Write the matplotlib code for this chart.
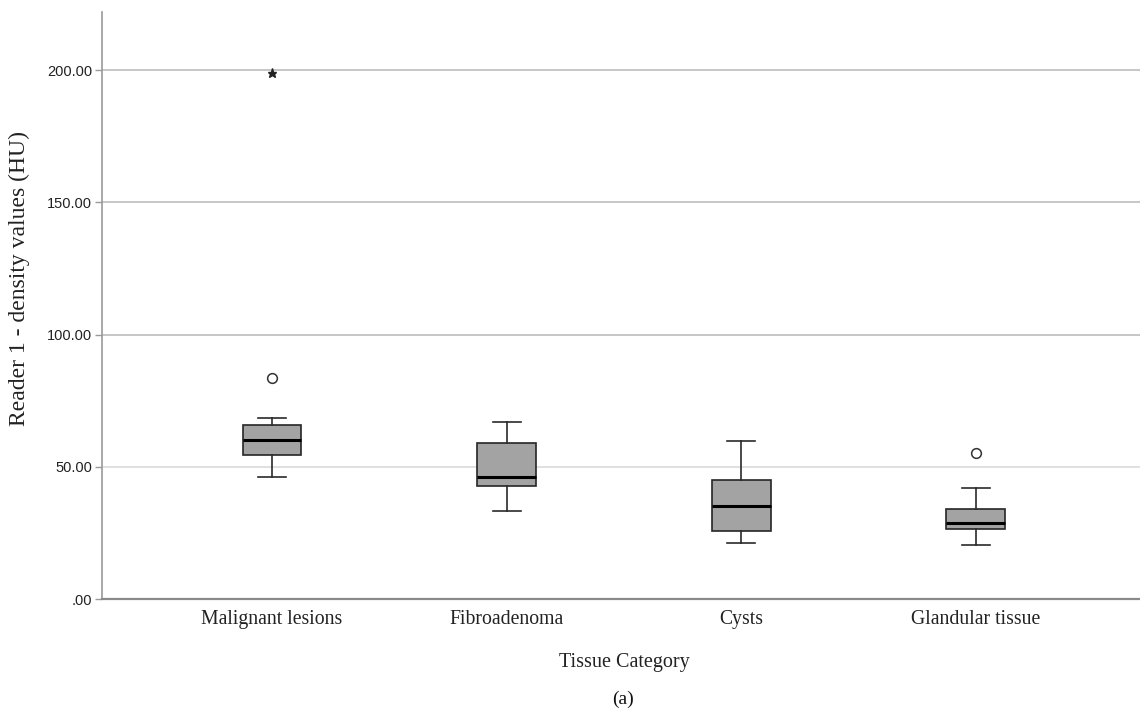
import numpy as np
import matplotlib
matplotlib.use("Agg")
import matplotlib.pyplot as plt

# Box plot summary values (HU)
categories = ['Malignant lesions', 'Fibroadenoma', 'Cysts', 'Glandular tissue']
whisker_low = [46.1, 33.4, 21.1, 20.3]
q1 = [54.4, 42.7, 25.7, 26.6]
medians = [60.1, 46.2, 35.2, 28.9]
q3 = [65.8, 59.1, 44.9, 33.9]
whisker_high = [68.4, 67.0, 59.7, 42.1]
outliers = [[83.7], [], [], [55.1]]          # circles
extremes = [[198.8], [], [], []]             # stars

y_ticks = [0, 50, 100, 150, 200]
y_tick_labels = ['.00', '50.00', '100.00', '150.00', '200.00']

serif = ['Liberation Serif', 'DejaVu Serif']
sans = ['Liberation Sans', 'DejaVu Sans']

fig = plt.figure(figsize=(11.4, 7.16), dpi=100)
ax = fig.add_axes([0.0895, 0.1634, 0.9105, 0.8196])

stats = []
for i, name in enumerate(categories):
    stats.append({
        'label': name,
        'whislo': whisker_low[i],
        'q1': q1[i],
        'med': medians[i],
        'q3': q3[i],
        'whishi': whisker_high[i],
        'fliers': outliers[i],
    })

positions = np.arange(1, len(categories) + 1)

# gridlines (the 50 line is lighter in the original)
for yv in y_ticks[1:]:
    ax.axhline(yv, color='#dadada' if yv == 50 else '#bcbcbc', lw=1.2, zorder=0)

ax.bxp(stats, positions=positions, widths=0.25, patch_artist=True,
       showfliers=True,
       boxprops=dict(facecolor='#a3a3a3', edgecolor='#262626', linewidth=1.2),
       medianprops=dict(color='black', linewidth=2.2),
       whiskerprops=dict(color='#2a2a2a', linewidth=1.2),
       capprops=dict(color='#2a2a2a', linewidth=1.2),
       capwidths=0.12,
       flierprops=dict(marker='o', markerfacecolor='white', markeredgecolor='#333333',
                       markersize=7, markeredgewidth=1.1),
       zorder=3)

for i, vals in enumerate(extremes):
    if vals:
        ax.plot([positions[i]] * len(vals), vals, linestyle='none', marker='*',
                color='#222222', markersize=6.5, zorder=4)

ax.set_xlim(0.275, 4.70)
ax.set_ylim(0, 222)
ax.set_yticks(y_ticks)
ax.set_yticklabels(y_tick_labels, fontsize=10.5, family=sans, color='#222222')
ax.set_xticks(positions)
ax.set_xticklabels([])
ax.tick_params(axis='x', length=0)
ax.tick_params(axis='y', length=5, color='#9a9a9a', width=1, pad=2)

for side in ['top', 'right']:
    ax.spines[side].set_visible(False)
ax.spines['left'].set_color('#9a9a9a')
ax.spines['left'].set_linewidth(1.2)
ax.spines['bottom'].set_color('#8a8a8a')
ax.spines['bottom'].set_linewidth(1.6)

# category labels
for i, name in enumerate(categories):
    ax.text(positions[i], -7.8, name, ha='center', va='center',
            fontsize=14.2, family=serif, color='#222222')

fig.text(624 / 1140, 1 - 662 / 716, 'Tissue Category', ha='center', va='center',
         fontsize=14.5, family=serif, color='#222222')
fig.text(19 / 1140, 1 - 279 / 716, 'Reader 1 - density values (HU)', ha='center',
         va='center', rotation=90, fontsize=17, family=serif, color='#222222')
fig.text(623 / 1140, 1 - 699 / 716, '(a)', ha='center', va='center',
         fontsize=14, family=serif, color='#111111')

fig.savefig('out.png', dpi=100)
